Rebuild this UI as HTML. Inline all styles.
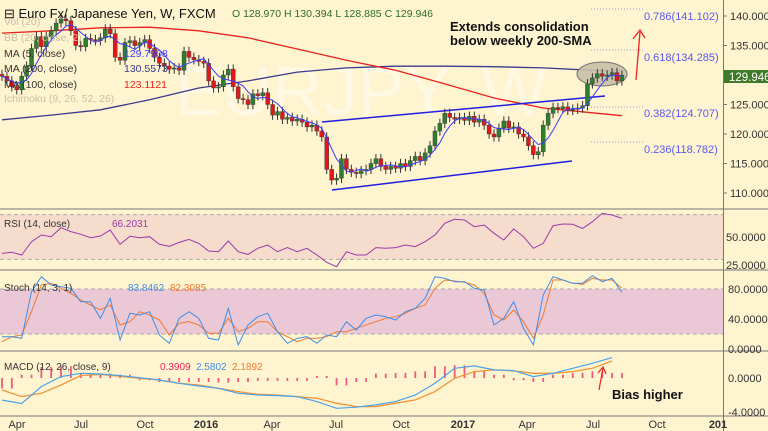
<!DOCTYPE html>
<html><head><meta charset="utf-8"><style>
html,body{margin:0;padding:0;background:#fff4d0;}
svg{display:block;font-family:"Liberation Sans",sans-serif;}
</style></head><body>
<svg id="c" width="768" height="431" viewBox="0 0 768 431" xmlns="http://www.w3.org/2000/svg">
<rect x="0" y="0" width="768" height="431" fill="#fff4d0"/>
<g id="g"></g>
</svg>
<script>
const closes=[129.8,129.0,128.0,127.5,129.8,131.5,134.5,136.5,134.8,136.5,137.5,138.8,139.5,139.2,137.5,135.0,134.8,136.2,136.0,135.8,136.3,137.8,137.0,133.0,132.5,135.5,135.8,135.0,135.5,136.0,134.5,133.0,132.0,131.5,131.0,131.2,130.8,134.0,133.0,132.6,132.3,132.0,129.0,127.8,128.0,130.0,131.0,128.0,126.0,125.8,125.0,126.8,126.5,127.0,125.0,123.2,123.8,122.5,122.8,122.2,122.5,122.0,121.2,121.5,120.5,119.5,114.0,112.2,112.5,115.8,114.0,113.5,113.3,113.8,114.0,115.0,115.8,114.5,114.0,114.5,114.2,115.0,114.5,115.5,116.2,115.5,116.8,118.0,120.5,121.8,123.5,122.8,122.5,122.8,122.3,123.0,122.0,122.5,121.5,120.0,119.5,121.0,122.2,121.0,121.2,120.0,119.5,118.0,116.5,117.0,121.5,123.5,124.5,124.3,124.6,124.0,124.2,124.4,124.8,128.5,129.5,130.2,129.8,130.0,130.4,129.0,129.95];
const ma200=[122.4,123.2,124.1,125.8,127.8,129.0,130.5,131.2,131.5,131.5,131.4,131.2,130.8,130.7];
const ma100=[137.1,137.5,138.0,138.1,137.5,136.3,134.4,132.5,130.8,128.5,126.1,124.4,123.6,123.1];
const maWeeks=[0,10,20,30,40,50,60,70,80,90,100,110,120,126];
const rsi=[35.4,36.3,33.9,45.8,51.8,50.3,58.3,54.8,52.4,49.4,50.9,56.2,43.5,50.6,49.4,50.3,43.5,41.7,45.2,47.9,44.3,37.5,36.9,46.4,36.9,34.5,39.9,42.9,36.9,40.5,36.9,39.9,33.9,27.4,23.5,36.9,33.9,33.9,40.5,39.9,40.5,42.9,41.4,45.8,51.8,62.2,65.8,65.2,59.2,60.7,53.3,47.3,57.2,50.3,39.9,44.3,60.1,61.6,61.3,57.7,63.7,71.1,69.6,66.7];
const stochKzy=[395,395,400,260,215,240,245,250,290,290,340,280,405,325,330,320,390,415,340,320,340,400,405,310,420,360,335,325,380,415,400,395,415,390,395,350,375,340,330,335,345,320,310,280,215,220,230,230,250,255,360,340,290,370,420,270,215,225,235,235,212,230,220,262];
const stochDzy=[410,395,390,320,240,235,250,265,285,300,315,300,360,350,320,330,345,390,355,350,360,385,385,340,380,370,350,350,380,395,410,400,400,395,380,380,370,360,350,340,335,325,310,300,250,225,228,232,240,265,330,345,315,350,400,330,225,225,235,238,220,225,225,250];
const macd=[-2.6,-3.0,-1.0,0.16,0.55,0.47,0.28,0.04,-0.23,-0.62,-0.94,-1.21,-1.8,-2.0,-2.07,-2.19,-2.78,-3.56,-3.44,-3.17,-2.78,-2.0,-0.62,1.14,1.42,0.95,0.87,0.16,0.55,1.14,1.73,2.4];
const signal=[-1.41,-2.19,-1.80,-0.82,0.28,0.44,0.20,-0.03,-0.23,-0.62,-0.82,-1.21,-1.60,-1.92,-2.0,-2.19,-2.39,-2.97,-3.36,-3.36,-2.97,-2.58,-1.60,-0.03,0.75,0.95,0.83,0.55,0.55,0.75,1.14,2.0];
const hist=[-1.0,0.16,1.06,1.14,0.36,0.28,0.16,-0.03,-0.23,-0.23,-0.23,-0.31,-0.23,-0.11,-0.11,-0.11,0,-0.62,-0.23,0.28,0.36,0.55,1.14,1.26,0.55,0.16,-0.04,-0.23,0.16,0.36,0.55,0.36];
const priceTicks=[140,135,130,125,120,115,110];
const xLabels=["Apr","Jul","Oct","2016","Apr","Jul","Oct","2017","Apr","Jul","Oct","201"];
const xLabelPos=[17,81,145,206,272,336,401,463,527,593,657,718];

const NS="http://www.w3.org/2000/svg";
const G=document.getElementById('g');
function el(t,a,txt,parent){const e=document.createElementNS(NS,t);for(const k in a)e.setAttribute(k,a[k]);if(txt!==undefined)e.textContent=txt;(parent||G).appendChild(e);return e;}
const xW=w=>2+w*4.92;
const yP=p=>16+(140-p)*5.9;
const yR=v=>237-(v-50)*1.12;
const yS=v=>349-v*0.75;
const zyS=z=>205+z/3;
const yM=v=>378-v*8.5;
const stochVal=z=>(349-zyS(z))/0.75;
function line(xs,ys,color,w,name){let d='';for(let i=0;i<xs.length;i++)d+=(i?'L':'M')+xs[i].toFixed(1)+' '+ys[i].toFixed(1);const p=el('path',{d:d,fill:'none',stroke:color,'stroke-width':w});return p;}

let wm=el('text',{x:175,y:115,'font-size':70,fill:'#fff8e2'},'EURJPY, W');


let rb=el('rect',{x:0,y:yR(70),width:723,height:yR(30)-yR(70),fill:'#f6dccc'});

let sb=el('rect',{x:0,y:yS(80),width:723,height:yS(20)-yS(80),fill:'#ebc8d6'});

[[yR(70)],[yR(30)],[yS(80)],[yS(20)]].forEach(a=>{const l=el('line',{x1:0,x2:723,y1:a[0],y2:a[0],stroke:'#aaa','stroke-dasharray':'4,3'});});
[209,270,351,416].forEach(y=>{const l=el('line',{x1:0,x2:768,y1:y,y2:y,stroke:'#777','stroke-width':1});});
let ax=el('line',{x1:723.5,x2:723.5,y1:0,y2:431,stroke:'#777'});

line(maWeeks.map(xW),ma200.map(yP),'#3a3a8c',1.3,'ma200-line');
line(maWeeks.map(xW),ma100.map(yP),'#e8231f',1.3,'ma100-line');
line([322,605],[122,96],'#1f1fe0',1.5,'channel-upper');
line([332,572],[190,161],'#1f1fe0',1.5,'channel-lower');
[[9,'0.786(141.102)',16],[50,'0.618(134.285)',57],[107,'0.382(124.707)',113],[142,'0.236(118.782)',149]].forEach(f=>{
 const l=el('line',{x1:591,x2:643,y1:f[0],y2:f[0],stroke:'#9a9ad0','stroke-dasharray':'1,2'});
 const t=el('text',{x:644,y:f[2]+4,'font-size':11,fill:'#5a5af0'},f[1]);});
let ell=el('ellipse',{cx:602,cy:74,rx:25,ry:12,fill:'#c8c0a8',stroke:'#666','stroke-width':1,opacity:0.9});


closes.forEach((c,i)=>{
 const o=i?closes[i-1]:c+0.3;const hi=Math.max(o,c)+0.8, lo=Math.min(o,c)-0.8;
 const x=xW(i);const up=c>=o;const col=up?'#2f7d2f':'#e0181b';
 const w=el('line',{x1:x,x2:x,y1:yP(hi),y2:yP(lo),stroke:'#333','stroke-width':1});
 
 const b=el('rect',{x:x-2,y:yP(Math.max(o,c)),width:4,height:Math.max(1,Math.abs(yP(o)-yP(c))),fill:col,stroke:'#333','stroke-width':0.4});
 
});
const ma5=closes.map((c,i)=>{const s=closes.slice(Math.max(0,i-4),i+1);return s.reduce((a,b)=>a+b,0)/s.length;});
line(closes.map((c,i)=>xW(i)),ma5.map(yP),'#3b3bff',1,'ma5-line');

line([636,640],[80,32],'#e8231f',1.3,'target-arrow');
line([633,640,645],[39,30,38],'#e8231f',1.3,'target-arrowhead');
let a1=el('text',{x:450,y:31,'font-size':13,'font-weight':'bold',fill:'#111'},'Extends consolidation');

let a2=el('text',{x:450,y:45,'font-size':13,'font-weight':'bold',fill:'#111'},'below weekly 200-SMA');


priceTicks.forEach(p=>{const t=el('text',{x:730,y:yP(p)+4,'font-size':11,fill:'#333'},p.toFixed(3));
 const k=el('line',{x1:723,x2:727,y1:yP(p),y2:yP(p),stroke:'#777'});});
let pl=el('rect',{x:724,y:70,width:44,height:13,fill:'#3f7a2a'});
let pt=el('text',{x:729,y:81,'font-size':11.5,fill:'#fff'},'129.946');

line(rsi.map((v,i)=>xW(i*2)),rsi.map(yR),'#9b3aa8',1,'rsi-line');
[[50,'50.0000'],[25,'25.0000']].forEach(a=>{const t=el('text',{x:726,y:yR(a[0])+4,'font-size':11,fill:'#333'},a[1]);});
line(stochDzy.map((v,i)=>xW(i*2)),stochDzy.map(z=>yS(stochVal(z))),'#f07a30',1,'stoch-d-line');
line(stochKzy.map((v,i)=>xW(i*2)),stochKzy.map(z=>yS(stochVal(z))),'#3d8ee8',1,'stoch-k-line');
[[80,'80.0000'],[40,'40.0000'],[0,'0.0000']].forEach(a=>{const t=el('text',{x:728,y:yS(a[0])+4,'font-size':11,fill:'#333'},a[1]);});
hist.forEach((h,i)=>{for(let k=0;k<4;k+=2){const x=xW(i*4+k);const b=el('line',{x1:x,x2:x,y1:yM(0),y2:yM(h)+(h>=0?-2:2),stroke:'#f0587c','stroke-width':1.8});}});
line(signal.map((v,i)=>xW(i*4)),signal.map(yM),'#f0953a',1.3,'macd-signal-line');
line(macd.map((v,i)=>xW(i*4)),macd.map(yM),'#4aa3e8',1.2,'macd-line');
[[0,'0.0000'],[-4,'-4.0000']].forEach(a=>{const t=el('text',{x:728,y:yM(a[0])+4,'font-size':11,fill:'#333'},a[1]);});
line([599,603],[390,368],'#e8231f',1.2,'bias-arrow');
line([598,603,606],[373,367,374],'#e8231f',1.2,'bias-arrowhead');
let bh=el('text',{x:612,y:399,'font-size':13,'font-weight':'bold',fill:'#111'},'Bias higher');


xLabels.forEach((l,i)=>{const t=el('text',{x:xLabelPos[i],y:428,'font-size':11,'font-weight':(l.length===4||l==='201')?'bold':'normal',fill:'#333','text-anchor':'middle'},l);});

let tt=el('text',{x:4,y:18,'font-size':13,fill:'#111'},'⊟ Euro Fx/ Japanese Yen, W, FXCM');
let oh=el('text',{x:232,y:17,'font-size':10.5,fill:'#2d6b2d'},'O 128.970  H 130.394  L 128.885  C 129.946');
[['Vol (20)',25,'#c8c0a8'],['BB (20, close, 2)',41,'#c8c0a8'],['MA (5, close)',57,'#333'],['MA (200, close)',72,'#333'],['MA (100, close)',88,'#333'],['Ichimoku (9, 26, 52, 26)',102,'#c8c0a8']].forEach(a=>{const t=el('text',{x:4,y:a[1],'font-size':10.5,fill:a[2]},a[0]);});
[['129.7908',57,'#3b3bff'],['130.5573',72,'#3a3a8c'],['123.1121',88,'#e8231f']].forEach(a=>{const t=el('text',{x:124,y:a[1],'font-size':10.5,fill:a[2]},a[0]);});
let rl=el('text',{x:4,y:227,'font-size':10,fill:'#333'},'RSI (14, close)');
let rv=el('text',{x:112,y:227,'font-size':10,fill:'#9b3aa8'},'66.2031');
let sl=el('text',{x:4,y:291,'font-size':10,fill:'#333'},'Stoch (14, 3, 1)');
let sv=el('text',{x:128,y:291,'font-size':10,fill:'#3d8ee8'},'83.8462');
let sv2=el('text',{x:170,y:291,'font-size':10,fill:'#f07a30'},'82.3085');
let ml=el('text',{x:4,y:370,'font-size':10,fill:'#333'},'MACD (12, 26, close, 9)');
let mv=el('text',{x:160,y:370,'font-size':10,fill:'#e8235e'},'0.3909');
let mv2=el('text',{x:196,y:370,'font-size':10,fill:'#3d8ee8'},'2.5802');
let mv3=el('text',{x:232,y:370,'font-size':10,fill:'#f07a30'},'2.1892');
</script>
</body></html>
